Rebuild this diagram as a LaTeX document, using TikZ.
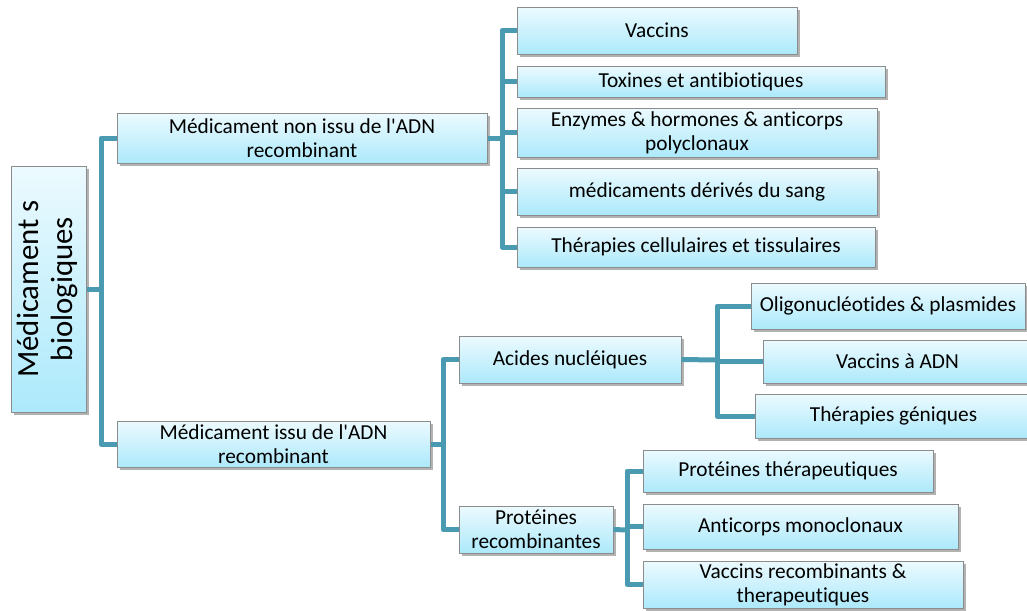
\documentclass[tikz,border=0pt]{standalone}
\usepackage{fontspec}
\setmainfont{Carlito}[Ligatures=NoCommon]
\usetikzlibrary{shadows}

\definecolor{boxtop}{RGB}{236,250,254}
\definecolor{boxbot}{RGB}{172,233,251}
\definecolor{boxline}{RGB}{140,140,140}
\definecolor{linkcol}{RGB}{74,155,178}

\newcommand{\unitpx}{0.6}
% box from its corners (x1,y1) to (x2,y2), in pixels
\newcommand{\bx}[6]{%
    \pgfmathsetmacro{\bw}{(#4-#2)*\unitpx}%
    \pgfmathsetmacro{\bh}{(#5-#3)*\unitpx}%
    \node[box, minimum width=\bw pt, minimum height=\bh pt] (#1) at ({(#2+#4)/2}, {(#3+#5)/2}) {#6};%
}
\newcommand{\apos}{\textquotesingle}

\tikzset{
    box/.style={draw=boxline, line width=0.6pt, top color=boxtop, bottom color=boxbot,
        inner sep=0pt, align=center, font=\fontsize{12.8}{14.6}\selectfont,
        drop shadow={shadow xshift=1.5pt, shadow yshift=-1.8pt, fill=black, opacity=0.3}},
    link/.style={draw=linkcol, line width=3pt, line join=round}
}

\begin{document}
\begin{tikzpicture}[x=0.6pt, y=-0.6pt]

        \useasboundingbox (0,0) rectangle (1027,610);

        % --- Root ---
        \bx{root}{11}{166}{86}{412}{\rotatebox{90}{\fontsize{18.5}{20.5}\selectfont
            \begin{tabular}{@{}c@{}}Médicament s\\biologiques\end{tabular}}}

        % --- First level ---
        \bx{nonissu}{117}{113}{487}{163}{Médicament non issu de l\apos ADN\\recombinant}
        \bx{issu}{117}{421}{430}{467}{Médicament issu de l\apos ADN\\recombinant}

        % --- Non issu de l'ADN recombinant ---
        \bx{vaccins}{517}{7}{797}{54}{Vaccins}
        \bx{toxines}{517}{66}{885}{97}{Toxines et antibiotiques}
        \bx{enzymes}{517}{108}{877}{157}{Enzymes \& hormones \& anticorps\\polyclonaux}
        \bx{sang}{517}{168}{877}{215}{médicaments dérivés du sang}
        \bx{cellules}{517}{227}{875}{267}{Thérapies cellulaires et tissulaires}

        % --- Issu de l'ADN recombinant ---
        \bx{acides}{459}{336}{681}{383}{Acides nucléiques}
        \bx{proteines}{459}{506}{613}{553}{Protéines\\recombinantes}

        \bx{oligo}{751}{283}{1025}{329}{Oligonucléotides \& plasmides}
        \bx{vaccadn}{763}{340}{1032}{383}{Vaccins à ADN}
        \bx{geniques}{755}{394}{1032}{438}{Thérapies géniques}

        \bx{therap}{643}{450}{933}{492}{Protéines thérapeutiques}
        \bx{anticorps}{643}{504}{958}{549}{Anticorps monoclonaux}
        \bx{vaccrec}{643}{561}{963}{608}{Vaccins recombinants \&\\therapeutiques}

        % --- Connectors ---
        \coordinate (trunk) at (101,289);
        \coordinate (brA) at (502,138);
        \coordinate (brB) at (443,444);
        \coordinate (brC) at (717,360);
        \coordinate (brD) at (627,530);

        \draw[link] (root.east) -- (trunk);
        \draw[link] (nonissu.west) -| (trunk) |- (issu.west);

        \draw[link] (nonissu.east) -- (brA);
        \foreach \c in {vaccins, toxines, enzymes, sang, cellules}
            \draw[link] (brA) |- (\c.west);

        \draw[link] (issu.east) -- (brB);
        \draw[link] (acides.west) -| (brB) |- (proteines.west);

        \draw[link] (acides.east) -- (brC);
        \foreach \c in {oligo, vaccadn, geniques}
            \draw[link] (brC) |- (\c.west);

        \draw[link] (proteines.east) -- (brD);
        \foreach \c in {therap, anticorps, vaccrec}
            \draw[link] (brD) |- (\c.west);

    \end{tikzpicture}
\end{document}
